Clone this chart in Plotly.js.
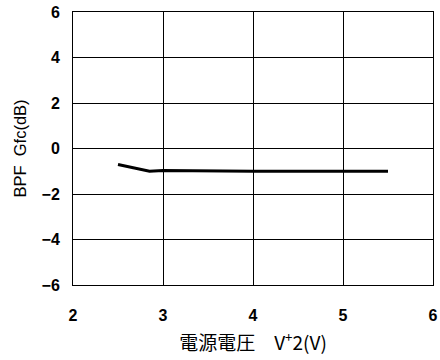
<!DOCTYPE html>
<html><head><meta charset="utf-8">
<script src="https://cdn.plot.ly/plotly-3.0.1.min.js"></script>
<style>body{margin:0;background:#fff}#c{width:440px;height:360px}</style>
</head><body><div id="c"></div>
<script>
const voltage = [2.5, 2.85, 3.0, 3.5, 4.0, 4.5, 5.0, 5.5];
const gfc = [-0.7, -1.0, -0.97, -1.0, -1.0, -1.0, -1.0, -1.0];
const xTicks = [2, 3, 4, 5, 6];
const yTicks = [-6, -4, -2, 0, 2, 4, 6];
const yTickText = ['\u22126', '\u22124', '\u22122', '0', '2', '4', '6'];

const fam = 'Liberation Sans, Arial, sans-serif';
Plotly.newPlot('c', [{
  x: voltage, y: gfc, type: 'scatter', mode: 'lines',
  line: {color: '#000', width: 3}
}], {
  width: 440, height: 360,
  margin: {l: 73, r: 7, t: 12, b: 75},
  paper_bgcolor: '#fff', plot_bgcolor: '#fff',
  showlegend: false,
  font: {family: fam, color: '#000'},
  xaxis: {
    range: [2, 6], tickvals: xTicks, ticktext: xTicks.map(String),
    showgrid: true, gridcolor: '#000', gridwidth: 1,
    showline: true, linecolor: '#000', linewidth: 1, mirror: true,
    zeroline: false, ticks: '', ticklen: 0, ticklabelstandoff: 16,
    tickfont: {size: 16, family: fam, color: '#000', weight: 'bold'},
    title: {text: '電源電圧\u3000V<sup>+</sup>2(V)', standoff: 13,
      font: {size: 19, family: 'Noto Sans CJK JP, sans-serif', color: '#000'}}
  },
  yaxis: {
    range: [-6, 6], tickvals: yTicks, ticktext: yTickText,
    showgrid: true, gridcolor: '#000', gridwidth: 1,
    showline: true, linecolor: '#000', linewidth: 1, mirror: true,
    zeroline: false, ticks: '', ticklen: 0, ticklabelstandoff: 9,
    tickfont: {size: 16, family: fam, color: '#000', weight: 'bold'},
    title: {text: 'BPF  Gfc(dB)', standoff: 10,
      font: {size: 16.5, family: fam, color: '#000'}}
  }
}, {staticPlot: true});
</script></body></html>
